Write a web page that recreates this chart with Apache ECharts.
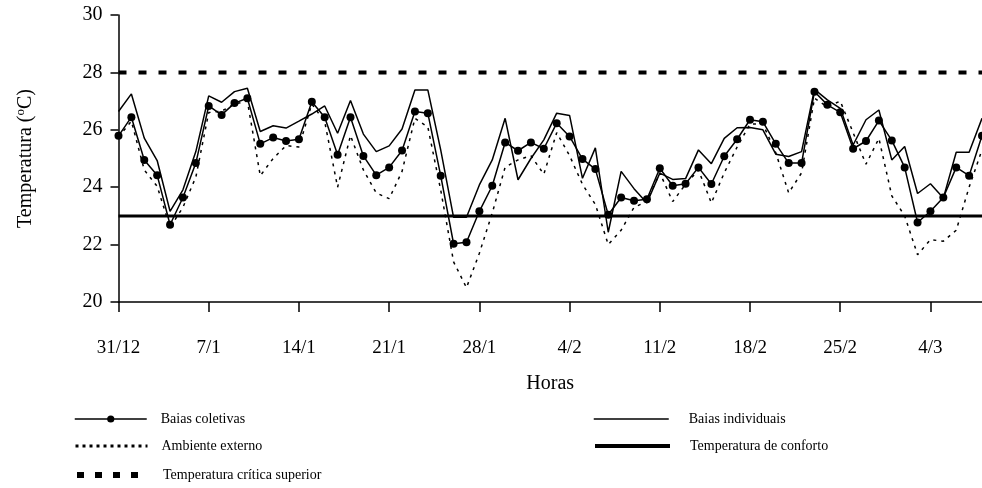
<!DOCTYPE html>
<html>
<head>
<meta charset="utf-8">
<script src="https://cdn.jsdelivr.net/npm/echarts@6/dist/echarts.min.js"></script>
<style>
html,body{margin:0;padding:0;background:#fff;}
#chart{width:982px;height:488px;}
</style>
</head>
<body>
<div id="chart"></div>
<script>
// Categories: daily dates from 31/12 to 8/3
const categories = ['31/12'];
for (let d = 1; d <= 31; d++) categories.push(d + '/1');
for (let d = 1; d <= 28; d++) categories.push(d + '/2');
for (let d = 1; d <= 8; d++) categories.push(d + '/3');

const baiasColetivas = [
  25.79, 26.44, 24.95, 24.42, 22.69, 23.64, 24.84, 26.83, 26.52, 26.93,
  27.10, 25.51, 25.73, 25.61, 25.67, 26.98, 26.44, 25.13, 26.44, 25.09,
  24.42, 24.69, 25.28, 26.64, 26.58, 24.40, 22.03, 22.08, 23.16, 24.05,
  25.56, 25.27, 25.56, 25.34, 26.23, 25.77, 24.98, 24.63, 23.04, 23.64,
  23.53, 23.58, 24.66, 24.05, 24.12, 24.69, 24.11, 25.08, 25.67, 26.35,
  26.28, 25.51, 24.84, 24.84, 27.33, 26.87, 26.61, 25.34, 25.61, 26.32,
  25.63, 24.69, 22.77, 23.16, 23.64, 24.69, 24.40, 25.79
];
const baiasIndividuais = [
  26.64, 27.25, 25.71, 24.93, 23.16, 23.91, 25.24, 27.18, 26.96, 27.33,
  27.45, 25.94, 26.14, 26.06, 26.30, 26.55, 26.83, 25.88, 27.02, 25.85,
  25.24, 25.44, 26.03, 27.39, 27.39, 25.30, 22.95, 22.95, 24.08, 24.95,
  26.40, 24.26, 25.00, 25.65, 26.58, 26.50, 24.31, 25.37, 22.43, 24.55,
  23.95, 23.45, 24.49, 24.27, 24.30, 25.30, 24.82, 25.70, 26.07, 26.08,
  26.00, 25.15, 25.07, 25.24, 27.41, 27.04, 26.75, 25.47, 26.35, 26.69,
  24.95, 25.42, 23.78, 24.12, 23.62, 25.22, 25.22, 26.40
];
const ambienteExterno = [
  25.75, 26.30, 24.60, 24.03, 22.60, 23.30, 24.35, 26.60, 26.65, 26.90,
  27.00, 24.40, 25.00, 25.45, 25.40, 26.90, 26.28, 24.00, 25.80, 24.60,
  23.80, 23.60, 24.55, 26.40, 26.10, 23.90, 21.40, 20.50, 21.70, 23.10,
  24.70, 24.95, 25.10, 24.45, 25.90, 25.10, 24.10, 23.40, 22.00, 22.50,
  23.30, 23.50, 24.50, 23.50, 24.10, 24.60, 23.45, 24.50, 25.40, 26.20,
  26.20, 25.20, 23.80, 24.50, 27.10, 26.80, 27.00, 25.90, 24.80, 25.70,
  23.70, 23.00, 21.65, 22.17, 22.12, 22.50, 24.00, 25.30
];
const temperaturaCritica = 28;
const temperaturaConforto = 23;
const yTicks = [20, 22, 24, 26, 28, 30];

const font = 'Liberation Serif';
const chart = echarts.init(document.getElementById('chart'), null, {renderer: 'canvas'});

const noMarker = {opacity: 0};

function legendItem(name, left, top, textGap, iconW, lineStyle, itemStyle) {
  const item = {name: name, lineStyle: lineStyle};
  if (itemStyle) item.itemStyle = itemStyle;
  return {
    left: left, top: top, itemWidth: iconW, itemHeight: 9,
    textStyle: {fontFamily: font, fontSize: 14, color: '#000', padding: [0, 0, 0, textGap]},
    data: [item]
  };
}

const option = {
  animation: false,
  backgroundColor: '#fff',
  textStyle: {fontFamily: font, color: '#000'},
  grid: {left: 118.5, right: 0, top: 15, bottom: 186, containLabel: false},
  xAxis: {
    type: 'category',
    data: categories,
    boundaryGap: false,
    name: 'Horas',
    nameLocation: 'middle',
    nameGap: 72,
    nameTextStyle: {fontFamily: font, fontSize: 20, color: '#000'},
    axisLine: {lineStyle: {color: '#000', width: 1.5}},
    axisTick: {show: true, interval: 6, length: 10, lineStyle: {color: '#000', width: 1.5}},
    axisLabel: {interval: 6, margin: 37, fontFamily: font, fontSize: 19, color: '#000'},
    splitLine: {show: false}
  },
  yAxis: {
    type: 'value',
    min: yTicks[0],
    max: yTicks[yTicks.length - 1],
    interval: 2,
    name: 'Temperatura ({sup|o}C)',
    nameLocation: 'middle',
    nameGap: 82,
    nameRotate: 90,
    nameTextStyle: {
      fontFamily: font, fontSize: 20, color: '#000',
      rich: {sup: {fontFamily: font, fontSize: 13, verticalAlign: 'top', padding: [0, 0, 9, 0], color: '#000'}}
    },
    axisLine: {show: true, lineStyle: {color: '#000', width: 1.5}},
    axisTick: {show: true, length: 8, lineStyle: {color: '#000', width: 1.5}},
    axisLabel: {margin: 16, fontFamily: font, fontSize: 20, color: '#000'},
    splitLine: {show: false}
  },
  legend: [
    legendItem('Baias coletivas', 69, 407, 9, 72, {width: 1.5, type: 'solid'}),
    legendItem('Ambiente externo', 69, 434, 9, 72, {width: 3, type: [3, 4]}, noMarker),
    legendItem('Temperatura crítica superior', 69, 463, 9, 72, {width: 6, type: [7, 11]}, noMarker),
    legendItem('Baias individuais', 588, 407, 15, 75, {width: 1.5, type: 'solid'}, noMarker),
    legendItem('Temperatura de conforto', 588, 434, 15, 75, {width: 4, type: 'solid'}, noMarker)
  ],
  series: [
    {
      name: 'Temperatura crítica superior',
      type: 'line',
      data: categories.map(() => temperaturaCritica),
      showSymbol: false, symbol: 'none',
      lineStyle: {color: '#000', width: 4, type: [8, 12]},
      itemStyle: {color: '#000'},
      z: 1
    },
    {
      name: 'Temperatura de conforto',
      type: 'line',
      data: categories.map(() => temperaturaConforto),
      showSymbol: false, symbol: 'none',
      lineStyle: {color: '#000', width: 3},
      itemStyle: {color: '#000'},
      z: 1
    },
    {
      name: 'Ambiente externo',
      type: 'line',
      data: ambienteExterno,
      symbol: 'none',
      lineStyle: {color: '#000', width: 1.5, type: [3, 5]},
      itemStyle: {color: '#000'},
      z: 2
    },
    {
      name: 'Baias individuais',
      type: 'line',
      data: baiasIndividuais,
      symbol: 'none',
      lineStyle: {color: '#000', width: 1.5},
      itemStyle: {color: '#000'},
      z: 3
    },
    {
      name: 'Baias coletivas',
      type: 'line',
      data: baiasColetivas,
      symbol: 'circle',
      symbolSize: 8,
      showAllSymbol: true,
      lineStyle: {color: '#000', width: 1.5},
      itemStyle: {color: '#000'},
      z: 4
    }
  ]
};
chart.setOption(option);
</script>
</body>
</html>
